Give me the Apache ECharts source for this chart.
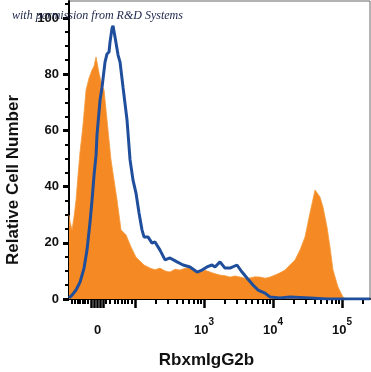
<!DOCTYPE html>
<html><head><meta charset="utf-8">
<script src="https://cdn.jsdelivr.net/npm/echarts@6/dist/echarts.min.js"></script>
<style>html,body{margin:0;padding:0;background:#fff}#c{width:371px;height:372px}</style>
</head><body><div id="c"></div>
<script>
// x values are in display units of a logicle-type axis (10^n at n, "0" at 1.457)
const orangeX = [1.043,1.058,1.087,1.116,1.145,1.174,1.203,1.246,1.290,1.333,1.377,1.406,1.435,1.449,1.478,1.522,1.551,1.594,1.652,1.696,1.739,1.797,1.870,1.942,2.014,2.130,2.217,2.290,2.362,2.435,2.507,2.580,2.652,2.725,2.797,2.870,2.942,3.015,3.087,3.160,3.232,3.305,3.377,3.450,3.522,3.595,3.667,3.740,3.812,3.885,3.957,4.029,4.101,4.174,4.246,4.319,4.391,4.464,4.536,4.609,4.681,4.725,4.783,4.826,4.870,4.942,5.014,5.058,5.406];
const orangeY = [29.9,27.4,24.6,29.2,35.2,44.1,52.3,61.9,74.4,78.6,81.5,82.9,86.1,84.3,80.4,75.8,74.4,63.7,49.5,42.3,35.2,24.6,22.8,18.5,14.9,12.1,11.0,10.4,11.0,10.0,9.6,10.6,10.3,10.9,11.0,10.1,9.6,10.2,9.6,9.0,8.5,8.3,7.8,8.2,7.8,7.4,7.5,7.9,7.8,7.4,7.8,8.5,9.3,10.3,12.1,13.9,17.4,22.1,30.6,38.8,36.3,32.7,25.6,18.5,10.3,4.3,0.7,0,0];
const blueX = [1.043,1.087,1.145,1.203,1.261,1.304,1.348,1.377,1.406,1.435,1.449,1.493,1.522,1.565,1.594,1.623,1.638,1.667,1.681,1.710,1.754,1.783,1.826,1.884,1.928,1.971,2.014,2.058,2.101,2.130,2.188,2.246,2.290,2.362,2.435,2.507,2.609,2.696,2.797,2.899,2.971,3.043,3.116,3.159,3.232,3.304,3.377,3.478,3.551,3.623,3.710,3.783,3.884,3.957,4.101,4.246,4.536,4.783,5.406];
const blueY = [0.4,1.4,3.2,6.0,11.0,17.4,27.4,35.2,44.1,51.2,58.4,70.8,75.4,84.3,87.2,87.9,91.5,96.4,97.2,93.2,86.8,84.3,75.4,63.7,49.5,42.3,37.7,30.6,24.6,22.1,22.1,19.9,20.3,17.4,13.9,14.6,13.2,12.1,11.4,9.6,10.3,11.4,12.1,11.4,13.2,11.0,11.0,12.1,9.6,7.5,5.0,3.2,2.1,0.7,0.4,0.7,0.4,0,0];

const yLabelValues = [0,20,40,60,80,100];
const yMinorValues = [5,10,15,25,30,35,45,50,55,65,70,75,85,90,95,105];
const xLabelPos = [1.457,3,4,5];
const xLabelText = ['0','10^3','10^4','10^5'];
const xMajorTicks = [1.362,1.406,1.457,1.493,1.536,2,3,4,5];
const xNearZeroTicks = [1.087,1.130,1.174,1.203,1.246,1.275,1.312,1.580,1.638,1.710,1.754,1.812,1.855,1.899,1.957];
const xLogMinorTicks = [];
[2,3,4].forEach(function(d){ for (let k=2;k<=9;k++) xLogMinorTicks.push(d+Math.log10(k)); });
xLogMinorTicks.push(5+Math.log10(2));

const X_MIN = 1.043, X_MAX = 5.406, Y_MAX = 106.05;

function pairs(xs, ys){ return xs.map(function(x,i){ return [x, ys[i]]; }); }
function xLabel(v){
  for (let i=0;i<xLabelPos.length;i++){
    if (Math.abs(v-xLabelPos[i])<1e-6){
      const t = xLabelText[i];
      if (t.indexOf('^')<0) return '{b|'+t+'}';
      const p = t.split('^');
      return '{b|'+p[0]+'}{s|'+p[1]+'}';
    }
  }
  return '';
}

const chart = echarts.init(document.getElementById('c'), null, {renderer:'canvas'});
const FONT = 'Liberation Sans, Arial, sans-serif';
chart.setOption({
  animation:false,
  backgroundColor:'#fff',
  grid:{left:69, right:1, top:1, bottom:73, show:true, borderColor:'#666', borderWidth:1, containLabel:false, outerBoundsMode:'none'},
  xAxis:[{
    type:'value', min:X_MIN, max:X_MAX,
    name:'RbxmIgG2b', nameLocation:'middle', nameGap:53,
    nameTextStyle:{fontSize:17, fontWeight:'bold', color:'#111', fontFamily:FONT, padding:[0,26,0,0]},
    axisLine:{show:true, onZero:false, lineStyle:{color:'#000', width:2}},
    axisTick:{show:true, customValues:xMajorTicks, length:9, lineStyle:{color:'#000', width:2.5}},
    axisLabel:{customValues:xLabelPos, formatter:xLabel, margin:18,
      rich:{b:{fontSize:13, fontWeight:'bold', color:'#111', fontFamily:FONT, lineHeight:26},
            s:{fontSize:10, fontWeight:'bold', color:'#111', fontFamily:FONT, padding:[0,0,16,0]}}},
    splitLine:{show:false}
  },{
    type:'value', min:X_MIN, max:X_MAX, position:'bottom',
    axisLine:{show:false},
    axisTick:{show:true, customValues:xNearZeroTicks.concat(xLogMinorTicks), length:5, lineStyle:{color:'#000', width:2}},
    axisLabel:{show:false}, splitLine:{show:false}
  }],
  yAxis:[{
    type:'value', min:0, max:Y_MAX,
    name:'Relative Cell Number', nameLocation:'middle', nameGap:47,
    nameTextStyle:{fontSize:17, fontWeight:'bold', color:'#111', fontFamily:FONT, padding:[0,60,0,0]},
    axisLine:{show:true, onZero:false, lineStyle:{color:'#000', width:2}},
    axisTick:{show:true, customValues:yLabelValues, length:6, lineStyle:{color:'#000', width:3}},
    axisLabel:{customValues:yLabelValues, margin:10, fontSize:13, fontWeight:'bold', color:'#111', fontFamily:FONT},
    splitLine:{show:false}
  },{
    type:'value', min:0, max:Y_MAX, position:'left',
    axisLine:{show:false},
    axisTick:{show:true, customValues:yMinorValues, length:4, lineStyle:{color:'#000', width:2}},
    axisLabel:{show:false}, splitLine:{show:false}
  }],
  series:[{
    name:'Isotype control', type:'line', xAxisIndex:0, yAxisIndex:0,
    data:pairs(orangeX, orangeY), symbol:'none', smooth:false,
    lineStyle:{width:0.8, color:'#F59A3C'}, areaStyle:{color:'#F58A24', opacity:1}, z:2
  },{
    name:'Antibody', type:'line', xAxisIndex:0, yAxisIndex:0,
    data:pairs(blueX, blueY), symbol:'none', smooth:false,
    lineStyle:{width:3, color:'#1F4E9C'}, z:3
  }],
  graphic:[{
    type:'text', left:12, top:10, z:100,
    style:{text:'with permission from R&D Systems', font:'italic 12px "Liberation Serif", "Times New Roman", serif', fill:'#1b2448'}
  }]
});
</script></body></html>
